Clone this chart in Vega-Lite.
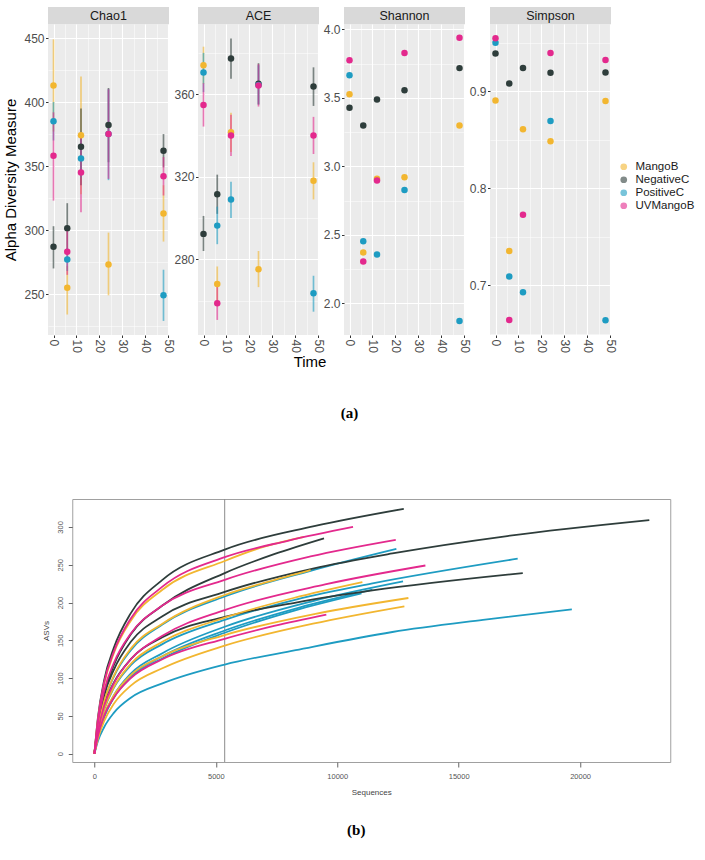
{
  "$schema": "https://vega.github.io/schema/vega-lite/v6.json",
  "background": "white",
  "padding": {"left": 3, "top": 7, "right": 5, "bottom": 5},
  "config": {"font": "Liberation Sans", "view": {"stroke": null}},
  "resolve": {"legend": {"color": "independent"}},
  "center": true,
  "spacing": 76,
  "datasets": {
    "alpha": [
      {"metric":"Chao1","group":"MangoB","time":0,"value":413,"lo":377,"hi":449},
      {"metric":"Chao1","group":"MangoB","time":6,"value":255,"lo":234,"hi":272},
      {"metric":"Chao1","group":"MangoB","time":12,"value":374,"lo":328,"hi":420},
      {"metric":"Chao1","group":"MangoB","time":24,"value":273,"lo":249,"hi":298},
      {"metric":"Chao1","group":"MangoB","time":48,"value":313,"lo":291,"hi":335},
      {"metric":"Chao1","group":"NegativeC","time":0,"value":287,"lo":270,"hi":303},
      {"metric":"Chao1","group":"NegativeC","time":6,"value":301.5,"lo":282,"hi":321},
      {"metric":"Chao1","group":"NegativeC","time":12,"value":365,"lo":335,"hi":395},
      {"metric":"Chao1","group":"NegativeC","time":24,"value":382,"lo":353,"hi":411},
      {"metric":"Chao1","group":"NegativeC","time":48,"value":362,"lo":349,"hi":375},
      {"metric":"Chao1","group":"PositiveC","time":0,"value":385,"lo":370,"hi":400},
      {"metric":"Chao1","group":"PositiveC","time":6,"value":277,"lo":268,"hi":286},
      {"metric":"Chao1","group":"PositiveC","time":12,"value":356,"lo":341,"hi":371},
      {"metric":"Chao1","group":"PositiveC","time":24,"value":375,"lo":339,"hi":410},
      {"metric":"Chao1","group":"PositiveC","time":48,"value":249,"lo":229,"hi":269},
      {"metric":"Chao1","group":"UVMangoB","time":0,"value":358,"lo":323,"hi":392},
      {"metric":"Chao1","group":"UVMangoB","time":6,"value":283,"lo":265,"hi":300},
      {"metric":"Chao1","group":"UVMangoB","time":12,"value":345,"lo":314,"hi":376},
      {"metric":"Chao1","group":"UVMangoB","time":24,"value":375,"lo":340,"hi":410},
      {"metric":"Chao1","group":"UVMangoB","time":48,"value":342,"lo":327,"hi":357},
      {"metric":"ACE","group":"MangoB","time":0,"value":374,"lo":365,"hi":383},
      {"metric":"ACE","group":"MangoB","time":6,"value":268,"lo":259.5,"hi":276.5},
      {"metric":"ACE","group":"MangoB","time":12,"value":341.6,"lo":332,"hi":351},
      {"metric":"ACE","group":"MangoB","time":24,"value":275.2,"lo":266.5,"hi":284},
      {"metric":"ACE","group":"MangoB","time":48,"value":318,"lo":309,"hi":327},
      {"metric":"ACE","group":"NegativeC","time":0,"value":292.3,"lo":284,"hi":301},
      {"metric":"ACE","group":"NegativeC","time":6,"value":311.5,"lo":302,"hi":321},
      {"metric":"ACE","group":"NegativeC","time":12,"value":377.3,"lo":367.5,"hi":387},
      {"metric":"ACE","group":"NegativeC","time":24,"value":365,"lo":355,"hi":375},
      {"metric":"ACE","group":"NegativeC","time":48,"value":363.7,"lo":354.3,"hi":373},
      {"metric":"ACE","group":"PositiveC","time":0,"value":370.5,"lo":361,"hi":380},
      {"metric":"ACE","group":"PositiveC","time":6,"value":296.3,"lo":287.3,"hi":305.5},
      {"metric":"ACE","group":"PositiveC","time":12,"value":309,"lo":300,"hi":317.6},
      {"metric":"ACE","group":"PositiveC","time":24,"value":364.5,"lo":355,"hi":374},
      {"metric":"ACE","group":"PositiveC","time":48,"value":263.5,"lo":254.6,"hi":272},
      {"metric":"ACE","group":"UVMangoB","time":0,"value":354.7,"lo":344.3,"hi":365.3},
      {"metric":"ACE","group":"UVMangoB","time":6,"value":258.7,"lo":250.6,"hi":267},
      {"metric":"ACE","group":"UVMangoB","time":12,"value":340,"lo":330,"hi":350},
      {"metric":"ACE","group":"UVMangoB","time":24,"value":364.2,"lo":354,"hi":374.5},
      {"metric":"ACE","group":"UVMangoB","time":48,"value":340,"lo":331,"hi":349},
      {"metric":"Shannon","group":"MangoB","time":0,"value":3.528},
      {"metric":"Shannon","group":"MangoB","time":6,"value":2.372},
      {"metric":"Shannon","group":"MangoB","time":12,"value":2.91},
      {"metric":"Shannon","group":"MangoB","time":24,"value":2.922},
      {"metric":"Shannon","group":"MangoB","time":48,"value":3.299},
      {"metric":"Shannon","group":"NegativeC","time":0,"value":3.428},
      {"metric":"Shannon","group":"NegativeC","time":6,"value":3.299},
      {"metric":"Shannon","group":"NegativeC","time":12,"value":3.489},
      {"metric":"Shannon","group":"NegativeC","time":24,"value":3.557},
      {"metric":"Shannon","group":"NegativeC","time":48,"value":3.718},
      {"metric":"Shannon","group":"PositiveC","time":0,"value":3.666},
      {"metric":"Shannon","group":"PositiveC","time":6,"value":2.455},
      {"metric":"Shannon","group":"PositiveC","time":12,"value":2.358},
      {"metric":"Shannon","group":"PositiveC","time":24,"value":2.829},
      {"metric":"Shannon","group":"PositiveC","time":48,"value":1.873},
      {"metric":"Shannon","group":"UVMangoB","time":0,"value":3.776},
      {"metric":"Shannon","group":"UVMangoB","time":6,"value":2.306},
      {"metric":"Shannon","group":"UVMangoB","time":12,"value":2.898},
      {"metric":"Shannon","group":"UVMangoB","time":24,"value":3.829},
      {"metric":"Shannon","group":"UVMangoB","time":48,"value":3.939},
      {"metric":"Simpson","group":"MangoB","time":0,"value":0.8907},
      {"metric":"Simpson","group":"MangoB","time":6,"value":0.7354},
      {"metric":"Simpson","group":"MangoB","time":12,"value":0.8609},
      {"metric":"Simpson","group":"MangoB","time":24,"value":0.8486},
      {"metric":"Simpson","group":"MangoB","time":48,"value":0.8901},
      {"metric":"Simpson","group":"NegativeC","time":0,"value":0.9391},
      {"metric":"Simpson","group":"NegativeC","time":6,"value":0.9082},
      {"metric":"Simpson","group":"NegativeC","time":12,"value":0.9241},
      {"metric":"Simpson","group":"NegativeC","time":24,"value":0.9192},
      {"metric":"Simpson","group":"NegativeC","time":48,"value":0.9195},
      {"metric":"Simpson","group":"PositiveC","time":0,"value":0.9501},
      {"metric":"Simpson","group":"PositiveC","time":6,"value":0.7091},
      {"metric":"Simpson","group":"PositiveC","time":12,"value":0.6929},
      {"metric":"Simpson","group":"PositiveC","time":24,"value":0.8695},
      {"metric":"Simpson","group":"PositiveC","time":48,"value":0.6638},
      {"metric":"Simpson","group":"UVMangoB","time":0,"value":0.9549},
      {"metric":"Simpson","group":"UVMangoB","time":6,"value":0.6641},
      {"metric":"Simpson","group":"UVMangoB","time":12,"value":0.7728},
      {"metric":"Simpson","group":"UVMangoB","time":24,"value":0.9395},
      {"metric":"Simpson","group":"UVMangoB","time":48,"value":0.9323}
    ],
    "rare": [
      {"c":"C19","group":"PositiveC","seq":0,"asv":0},{"c":"C19","group":"PositiveC","seq":150,"asv":17},{"c":"C19","group":"PositiveC","seq":400,"asv":35},{"c":"C19","group":"PositiveC","seq":800,"asv":54},{"c":"C19","group":"PositiveC","seq":1500,"asv":74},{"c":"C19","group":"PositiveC","seq":2800,"asv":93},{"c":"C19","group":"PositiveC","seq":5365,"asv":118},{"c":"C19","group":"PositiveC","seq":8288,"asv":137},{"c":"C19","group":"PositiveC","seq":12270,"asv":161},{"c":"C19","group":"PositiveC","seq":16000,"asv":177},{"c":"C19","group":"PositiveC","seq":19660,"asv":191},
      {"c":"C15","group":"PositiveC","seq":0,"asv":0},{"c":"C15","group":"PositiveC","seq":150,"asv":22},{"c":"C15","group":"PositiveC","seq":400,"asv":48},{"c":"C15","group":"PositiveC","seq":800,"asv":74},{"c":"C15","group":"PositiveC","seq":1500,"asv":101},{"c":"C15","group":"PositiveC","seq":2800,"asv":126},{"c":"C15","group":"PositiveC","seq":5365,"asv":160},{"c":"C15","group":"PositiveC","seq":8200,"asv":189},{"c":"C15","group":"PositiveC","seq":11000,"asv":212},
      {"c":"C14","group":"PositiveC","seq":0,"asv":0},{"c":"C14","group":"PositiveC","seq":150,"asv":23},{"c":"C14","group":"PositiveC","seq":400,"asv":49},{"c":"C14","group":"PositiveC","seq":800,"asv":75},{"c":"C14","group":"PositiveC","seq":1500,"asv":103},{"c":"C14","group":"PositiveC","seq":2800,"asv":129},{"c":"C14","group":"PositiveC","seq":5365,"asv":163},{"c":"C14","group":"PositiveC","seq":8400,"asv":193},{"c":"C14","group":"PositiveC","seq":11450,"asv":217},
      {"c":"C13","group":"PositiveC","seq":0,"asv":0},{"c":"C13","group":"PositiveC","seq":150,"asv":24},{"c":"C13","group":"PositiveC","seq":400,"asv":50},{"c":"C13","group":"PositiveC","seq":800,"asv":77},{"c":"C13","group":"PositiveC","seq":1500,"asv":106},{"c":"C13","group":"PositiveC","seq":2800,"asv":133},{"c":"C13","group":"PositiveC","seq":5365,"asv":168},{"c":"C13","group":"PositiveC","seq":9000,"asv":202},{"c":"C13","group":"PositiveC","seq":12710,"asv":228},
      {"c":"C12","group":"PositiveC","seq":0,"asv":0},{"c":"C12","group":"PositiveC","seq":150,"asv":28},{"c":"C12","group":"PositiveC","seq":400,"asv":58},{"c":"C12","group":"PositiveC","seq":800,"asv":87},{"c":"C12","group":"PositiveC","seq":1500,"asv":117},{"c":"C12","group":"PositiveC","seq":2800,"asv":145},{"c":"C12","group":"PositiveC","seq":5365,"asv":177},{"c":"C12","group":"PositiveC","seq":8300,"asv":204},{"c":"C12","group":"PositiveC","seq":11400,"asv":225},{"c":"C12","group":"PositiveC","seq":17430,"asv":258},
      {"c":"C7","group":"PositiveC","seq":0,"asv":0},{"c":"C7","group":"PositiveC","seq":150,"asv":33},{"c":"C7","group":"PositiveC","seq":400,"asv":69},{"c":"C7","group":"PositiveC","seq":800,"asv":102},{"c":"C7","group":"PositiveC","seq":1500,"asv":137},{"c":"C7","group":"PositiveC","seq":2800,"asv":171},{"c":"C7","group":"PositiveC","seq":5365,"asv":208},{"c":"C7","group":"PositiveC","seq":8900,"asv":242},{"c":"C7","group":"PositiveC","seq":12435,"asv":271},
      {"c":"C11","group":"NegativeC","seq":0,"asv":0},{"c":"C11","group":"NegativeC","seq":150,"asv":33},{"c":"C11","group":"NegativeC","seq":400,"asv":65},{"c":"C11","group":"NegativeC","seq":800,"asv":94},{"c":"C11","group":"NegativeC","seq":1500,"asv":125},{"c":"C11","group":"NegativeC","seq":2800,"asv":154},{"c":"C11","group":"NegativeC","seq":5365,"asv":181},{"c":"C11","group":"NegativeC","seq":8300,"asv":200},{"c":"C11","group":"NegativeC","seq":11445,"asv":216},{"c":"C11","group":"NegativeC","seq":17640,"asv":239},
      {"c":"C6","group":"NegativeC","seq":0,"asv":0},{"c":"C6","group":"NegativeC","seq":150,"asv":39},{"c":"C6","group":"NegativeC","seq":400,"asv":77},{"c":"C6","group":"NegativeC","seq":800,"asv":111},{"c":"C6","group":"NegativeC","seq":1500,"asv":148},{"c":"C6","group":"NegativeC","seq":2800,"asv":182},{"c":"C6","group":"NegativeC","seq":5365,"asv":214},{"c":"C6","group":"NegativeC","seq":9000,"asv":245},{"c":"C6","group":"NegativeC","seq":12270,"asv":265},{"c":"C6","group":"NegativeC","seq":17000,"asv":288},{"c":"C6","group":"NegativeC","seq":22850,"asv":309},
      {"c":"C4","group":"NegativeC","seq":0,"asv":0},{"c":"C4","group":"NegativeC","seq":150,"asv":38},{"c":"C4","group":"NegativeC","seq":400,"asv":79},{"c":"C4","group":"NegativeC","seq":800,"asv":117},{"c":"C4","group":"NegativeC","seq":1500,"asv":158},{"c":"C4","group":"NegativeC","seq":2800,"asv":196},{"c":"C4","group":"NegativeC","seq":5365,"asv":239},{"c":"C4","group":"NegativeC","seq":7400,"asv":264},{"c":"C4","group":"NegativeC","seq":9455,"asv":285},
      {"c":"C1","group":"NegativeC","seq":0,"asv":0},{"c":"C1","group":"NegativeC","seq":150,"asv":49},{"c":"C1","group":"NegativeC","seq":400,"asv":97},{"c":"C1","group":"NegativeC","seq":800,"asv":140},{"c":"C1","group":"NegativeC","seq":1500,"asv":186},{"c":"C1","group":"NegativeC","seq":2800,"asv":230},{"c":"C1","group":"NegativeC","seq":5365,"asv":270},{"c":"C1","group":"NegativeC","seq":9050,"asv":301},{"c":"C1","group":"NegativeC","seq":12740,"asv":324},
      {"c":"C3","group":"MangoB","seq":0,"asv":0},{"c":"C3","group":"MangoB","seq":150,"asv":46},{"c":"C3","group":"MangoB","seq":400,"asv":92},{"c":"C3","group":"MangoB","seq":800,"asv":133},{"c":"C3","group":"MangoB","seq":1500,"asv":176},{"c":"C3","group":"MangoB","seq":2800,"asv":217},{"c":"C3","group":"MangoB","seq":5365,"asv":255},{"c":"C3","group":"MangoB","seq":7000,"asv":274},{"c":"C3","group":"MangoB","seq":8630,"asv":287},
      {"c":"C8","group":"MangoB","seq":0,"asv":0},{"c":"C8","group":"MangoB","seq":150,"asv":34},{"c":"C8","group":"MangoB","seq":400,"asv":69},{"c":"C8","group":"MangoB","seq":800,"asv":103},{"c":"C8","group":"MangoB","seq":1500,"asv":139},{"c":"C8","group":"MangoB","seq":2800,"asv":172},{"c":"C8","group":"MangoB","seq":5365,"asv":210},{"c":"C8","group":"MangoB","seq":7100,"asv":227},{"c":"C8","group":"MangoB","seq":8905,"asv":243},
      {"c":"C10","group":"MangoB","seq":0,"asv":0},{"c":"C10","group":"MangoB","seq":150,"asv":29},{"c":"C10","group":"MangoB","seq":400,"asv":59},{"c":"C10","group":"MangoB","seq":800,"asv":88},{"c":"C10","group":"MangoB","seq":1500,"asv":119},{"c":"C10","group":"MangoB","seq":2800,"asv":148},{"c":"C10","group":"MangoB","seq":5365,"asv":180},{"c":"C10","group":"MangoB","seq":8200,"asv":206},{"c":"C10","group":"MangoB","seq":11035,"asv":227},
      {"c":"C16","group":"MangoB","seq":0,"asv":0},{"c":"C16","group":"MangoB","seq":150,"asv":25},{"c":"C16","group":"MangoB","seq":400,"asv":52},{"c":"C16","group":"MangoB","seq":800,"asv":77},{"c":"C16","group":"MangoB","seq":1500,"asv":104},{"c":"C16","group":"MangoB","seq":2800,"asv":129},{"c":"C16","group":"MangoB","seq":5365,"asv":157},{"c":"C16","group":"MangoB","seq":9100,"asv":185},{"c":"C16","group":"MangoB","seq":12930,"asv":206},
      {"c":"C18","group":"MangoB","seq":0,"asv":0},{"c":"C18","group":"MangoB","seq":150,"asv":20},{"c":"C18","group":"MangoB","seq":400,"asv":43},{"c":"C18","group":"MangoB","seq":800,"asv":66},{"c":"C18","group":"MangoB","seq":1500,"asv":90},{"c":"C18","group":"MangoB","seq":2800,"asv":113},{"c":"C18","group":"MangoB","seq":5365,"asv":143},{"c":"C18","group":"MangoB","seq":9000,"asv":172},{"c":"C18","group":"MangoB","seq":12765,"asv":195},
      {"c":"C2","group":"UVMangoB","seq":0,"asv":0},{"c":"C2","group":"UVMangoB","seq":150,"asv":47},{"c":"C2","group":"UVMangoB","seq":400,"asv":94},{"c":"C2","group":"UVMangoB","seq":800,"asv":135},{"c":"C2","group":"UVMangoB","seq":1500,"asv":179},{"c":"C2","group":"UVMangoB","seq":2800,"asv":221},{"c":"C2","group":"UVMangoB","seq":5365,"asv":260},{"c":"C2","group":"UVMangoB","seq":8000,"asv":282},{"c":"C2","group":"UVMangoB","seq":10650,"asv":300},
      {"c":"C5","group":"UVMangoB","seq":0,"asv":0},{"c":"C5","group":"UVMangoB","seq":150,"asv":41},{"c":"C5","group":"UVMangoB","seq":400,"asv":83},{"c":"C5","group":"UVMangoB","seq":800,"asv":120},{"c":"C5","group":"UVMangoB","seq":1500,"asv":159},{"c":"C5","group":"UVMangoB","seq":2800,"asv":196},{"c":"C5","group":"UVMangoB","seq":5365,"asv":230},{"c":"C5","group":"UVMangoB","seq":8900,"asv":261},{"c":"C5","group":"UVMangoB","seq":12410,"asv":283},
      {"c":"C9","group":"UVMangoB","seq":0,"asv":0},{"c":"C9","group":"UVMangoB","seq":150,"asv":30},{"c":"C9","group":"UVMangoB","seq":400,"asv":63},{"c":"C9","group":"UVMangoB","seq":800,"asv":93},{"c":"C9","group":"UVMangoB","seq":1500,"asv":125},{"c":"C9","group":"UVMangoB","seq":2800,"asv":156},{"c":"C9","group":"UVMangoB","seq":5365,"asv":190},{"c":"C9","group":"UVMangoB","seq":9500,"asv":224},{"c":"C9","group":"UVMangoB","seq":13630,"asv":249},
      {"c":"C17","group":"UVMangoB","seq":0,"asv":0},{"c":"C17","group":"UVMangoB","seq":150,"asv":24},{"c":"C17","group":"UVMangoB","seq":400,"asv":50},{"c":"C17","group":"UVMangoB","seq":800,"asv":74},{"c":"C17","group":"UVMangoB","seq":1500,"asv":100},{"c":"C17","group":"UVMangoB","seq":2800,"asv":125},{"c":"C17","group":"UVMangoB","seq":5365,"asv":152},{"c":"C17","group":"UVMangoB","seq":7400,"asv":169},{"c":"C17","group":"UVMangoB","seq":9550,"asv":184}
    ]
  },
  "vconcat": [
    {
      "title": {"text": "(a)", "orient": "bottom", "anchor": "middle", "frame": "bounds", "font": "Liberation Serif", "fontSize": 15, "fontWeight": "bold", "color": "black", "offset": 36},
      "vconcat": [
        {
          "title": {"text": "Time", "orient": "bottom", "anchor": "middle", "font": "Liberation Sans", "fontSize": 15, "fontWeight": "normal", "color": "black", "offset": 3},
          "spacing": -2,
          "hconcat": [
            {
              "bounds": "flush", "spacing": 0,
              "vconcat": [
                {"width": 121, "height": 17, "view": {"fill": "#D9D9D9", "stroke": null}, "data": {"values": [{"m": "Chao1"}]}, "mark": {"type": "text", "fontSize": 12.5, "color": "#1A1A1A"}, "encoding": {"text": {"field": "m"}}},
                {
                  "width": 121, "height": 311, "view": {"fill": "#EBEBEB", "stroke": null},
                  "data": {"name": "alpha"},
                  "transform": [{"filter": "datum.metric == 'Chao1'"}],
                  "encoding": {
                    "x": {"field": "time", "type": "quantitative", "scale": {"domain": [-2.4, 50.4], "nice": false, "zero": false}, "axis": {"title": null, "values": [0,5,10,15,20,25,30,35,40,45,50], "labelExpr": "datum.value % 10 == 0 ? datum.label : ''", "labelAngle": 90, "labelFontSize": 12, "labelColor": "#4D4D4D", "labelPadding": 1.5, "tickSize": 2.5, "tickColor": "#333333", "tickOpacity": {"condition": {"test": "datum.value % 10 == 0", "value": 1}, "value": 0}, "domain": false, "grid": true, "gridColor": "white", "gridWidth": {"condition": {"test": "datum.value % 10 == 0", "value": 1.1}, "value": 0.5}}},
                    "color": {"field": "group", "type": "nominal", "scale": {"domain": ["MangoB","NegativeC","PositiveC","UVMangoB"], "range": ["#F2B630","#2E3D3B","#1E9CC2","#E3298D"]}, "legend": {"title": null, "orient": "none", "legendX": 570, "legendY": 154, "labelFontSize": 11.5, "labelColor": "#1A1A1A", "symbolType": "circle", "symbolSize": 45, "symbolStrokeWidth": 0, "rowPadding": 0, "labelOffset": 6}}
                  },
                  "layer": [
                    {"transform": [{"filter": "isValid(datum.lo)"}], "mark": {"type": "rule", "strokeWidth": 1.7, "opacity": 0.6},
                     "encoding": {"y": {"field": "lo", "type": "quantitative", "scale": {"domain": [218, 461], "nice": false, "zero": false}, "axis": {"title": "Alpha Diversity Measure", "titleFontSize": 15, "titleColor": "black", "titleFontWeight": "normal", "titlePadding": 5, "values": [225,250,275,300,325,350,375,400,425,450], "labelExpr": "datum.value % 50 == 0 ? datum.label : ''", "labelFontSize": 12, "labelColor": "#4D4D4D", "labelPadding": 1.5, "tickSize": 2.5, "tickColor": "#333333", "tickOpacity": {"condition": {"test": "datum.value % 50 == 0", "value": 1}, "value": 0}, "domain": false, "grid": true, "gridColor": "white", "gridWidth": {"condition": {"test": "datum.value % 50 == 0", "value": 1.1}, "value": 0.5}}}, "y2": {"field": "hi"}}},
                    {"mark": {"type": "circle", "size": 42, "opacity": 1},
                     "encoding": {"y": {"field": "value", "type": "quantitative", "scale": {"domain": [218, 461], "nice": false, "zero": false}, "axis": {"title": "Alpha Diversity Measure", "titleFontSize": 15, "titleColor": "black", "titleFontWeight": "normal", "titlePadding": 5, "values": [225,250,275,300,325,350,375,400,425,450], "labelExpr": "datum.value % 50 == 0 ? datum.label : ''", "labelFontSize": 12, "labelColor": "#4D4D4D", "labelPadding": 1.5, "tickSize": 2.5, "tickColor": "#333333", "tickOpacity": {"condition": {"test": "datum.value % 50 == 0", "value": 1}, "value": 0}, "domain": false, "grid": true, "gridColor": "white", "gridWidth": {"condition": {"test": "datum.value % 50 == 0", "value": 1.1}, "value": 0.5}}}}}
                  ]
                }
              ]
            },
            {
              "bounds": "flush", "spacing": 0,
              "vconcat": [
                {"width": 121, "height": 17, "view": {"fill": "#D9D9D9", "stroke": null}, "data": {"values": [{"m": "ACE"}]}, "mark": {"type": "text", "fontSize": 12.5, "color": "#1A1A1A"}, "encoding": {"text": {"field": "m"}}},
                {
                  "width": 121, "height": 311, "view": {"fill": "#EBEBEB", "stroke": null},
                  "data": {"name": "alpha"},
                  "transform": [{"filter": "datum.metric == 'ACE'"}],
                  "encoding": {
                    "x": {"field": "time", "type": "quantitative", "scale": {"domain": [-2.4, 50.4], "nice": false, "zero": false}, "axis": {"title": null, "values": [0,5,10,15,20,25,30,35,40,45,50], "labelExpr": "datum.value % 10 == 0 ? datum.label : ''", "labelAngle": 90, "labelFontSize": 12, "labelColor": "#4D4D4D", "labelPadding": 1.5, "tickSize": 2.5, "tickColor": "#333333", "tickOpacity": {"condition": {"test": "datum.value % 10 == 0", "value": 1}, "value": 0}, "domain": false, "grid": true, "gridColor": "white", "gridWidth": {"condition": {"test": "datum.value % 10 == 0", "value": 1.1}, "value": 0.5}}},
                    "color": {"field": "group", "type": "nominal", "scale": {"domain": ["MangoB","NegativeC","PositiveC","UVMangoB"], "range": ["#F2B630","#2E3D3B","#1E9CC2","#E3298D"]}, "legend": {"title": null, "orient": "none", "legendX": 570, "legendY": 154, "labelFontSize": 11.5, "labelColor": "#1A1A1A", "symbolType": "circle", "symbolSize": 45, "symbolStrokeWidth": 0, "rowPadding": 0, "labelOffset": 6}}
                  },
                  "layer": [
                    {"transform": [{"filter": "isValid(datum.lo)"}], "mark": {"type": "rule", "strokeWidth": 1.7, "opacity": 0.6},
                     "encoding": {"y": {"field": "lo", "type": "quantitative", "scale": {"domain": [243.3, 394], "nice": false, "zero": false}, "axis": {"title": null, "values": [260,280,300,320,340,360,380], "labelExpr": "datum.value % 40 == 0 ? datum.label : ''", "labelFontSize": 12, "labelColor": "#4D4D4D", "labelPadding": 1.5, "tickSize": 2.5, "tickColor": "#333333", "tickOpacity": {"condition": {"test": "datum.value % 40 == 0", "value": 1}, "value": 0}, "domain": false, "grid": true, "gridColor": "white", "gridWidth": {"condition": {"test": "datum.value % 40 == 0", "value": 1.1}, "value": 0.5}}}, "y2": {"field": "hi"}}},
                    {"mark": {"type": "circle", "size": 42, "opacity": 1},
                     "encoding": {"y": {"field": "value", "type": "quantitative", "scale": {"domain": [243.3, 394], "nice": false, "zero": false}, "axis": {"title": null, "values": [260,280,300,320,340,360,380], "labelExpr": "datum.value % 40 == 0 ? datum.label : ''", "labelFontSize": 12, "labelColor": "#4D4D4D", "labelPadding": 1.5, "tickSize": 2.5, "tickColor": "#333333", "tickOpacity": {"condition": {"test": "datum.value % 40 == 0", "value": 1}, "value": 0}, "domain": false, "grid": true, "gridColor": "white", "gridWidth": {"condition": {"test": "datum.value % 40 == 0", "value": 1.1}, "value": 0.5}}}}}
                  ]
                }
              ]
            },
            {
              "bounds": "flush", "spacing": 0,
              "vconcat": [
                {"width": 121, "height": 17, "view": {"fill": "#D9D9D9", "stroke": null}, "data": {"values": [{"m": "Shannon"}]}, "mark": {"type": "text", "fontSize": 12.5, "color": "#1A1A1A"}, "encoding": {"text": {"field": "m"}}},
                {
                  "width": 121, "height": 311, "view": {"fill": "#EBEBEB", "stroke": null},
                  "data": {"name": "alpha"},
                  "transform": [{"filter": "datum.metric == 'Shannon'"}],
                  "mark": {"type": "circle", "size": 42, "opacity": 1},
                  "encoding": {
                    "x": {"field": "time", "type": "quantitative", "scale": {"domain": [-2.4, 50.4], "nice": false, "zero": false}, "axis": {"title": null, "values": [0,5,10,15,20,25,30,35,40,45,50], "labelExpr": "datum.value % 10 == 0 ? datum.label : ''", "labelAngle": 90, "labelFontSize": 12, "labelColor": "#4D4D4D", "labelPadding": 1.5, "tickSize": 2.5, "tickColor": "#333333", "tickOpacity": {"condition": {"test": "datum.value % 10 == 0", "value": 1}, "value": 0}, "domain": false, "grid": true, "gridColor": "white", "gridWidth": {"condition": {"test": "datum.value % 10 == 0", "value": 1.1}, "value": 0.5}}},
                    "y": {"field": "value", "type": "quantitative", "scale": {"domain": [1.77, 4.04], "nice": false, "zero": false}, "axis": {"title": null, "values": [2.0,2.25,2.5,2.75,3.0,3.25,3.5,3.75,4.0], "format": ".1f", "labelExpr": "abs(datum.value*2 - round(datum.value*2)) < 0.01 ? datum.label : ''", "labelFontSize": 12, "labelColor": "#4D4D4D", "labelPadding": 1.5, "tickSize": 2.5, "tickColor": "#333333", "tickOpacity": {"condition": {"test": "abs(datum.value*2 - round(datum.value*2)) < 0.01", "value": 1}, "value": 0}, "domain": false, "grid": true, "gridColor": "white", "gridWidth": {"condition": {"test": "abs(datum.value*2 - round(datum.value*2)) < 0.01", "value": 1.1}, "value": 0.5}}},
                    "color": {"field": "group", "type": "nominal", "scale": {"domain": ["MangoB","NegativeC","PositiveC","UVMangoB"], "range": ["#F2B630","#2E3D3B","#1E9CC2","#E3298D"]}, "legend": {"title": null, "orient": "none", "legendX": 570, "legendY": 154, "labelFontSize": 11.5, "labelColor": "#1A1A1A", "symbolType": "circle", "symbolSize": 45, "symbolStrokeWidth": 0, "rowPadding": 0, "labelOffset": 6}}
                  }
                }
              ]
            },
            {
              "bounds": "flush", "spacing": 0,
              "vconcat": [
                {"width": 121, "height": 17, "view": {"fill": "#D9D9D9", "stroke": null}, "data": {"values": [{"m": "Simpson"}]}, "mark": {"type": "text", "fontSize": 12.5, "color": "#1A1A1A"}, "encoding": {"text": {"field": "m"}}},
                {
                  "width": 121, "height": 311, "view": {"fill": "#EBEBEB", "stroke": null},
                  "data": {"name": "alpha"},
                  "transform": [{"filter": "datum.metric == 'Simpson'"}],
                  "mark": {"type": "circle", "size": 42, "opacity": 1},
                  "encoding": {
                    "x": {"field": "time", "type": "quantitative", "scale": {"domain": [-2.4, 50.4], "nice": false, "zero": false}, "axis": {"title": null, "values": [0,5,10,15,20,25,30,35,40,45,50], "labelExpr": "datum.value % 10 == 0 ? datum.label : ''", "labelAngle": 90, "labelFontSize": 12, "labelColor": "#4D4D4D", "labelPadding": 1.5, "tickSize": 2.5, "tickColor": "#333333", "tickOpacity": {"condition": {"test": "datum.value % 10 == 0", "value": 1}, "value": 0}, "domain": false, "grid": true, "gridColor": "white", "gridWidth": {"condition": {"test": "datum.value % 10 == 0", "value": 1.1}, "value": 0.5}}},
                    "y": {"field": "value", "type": "quantitative", "scale": {"domain": [0.6487, 0.9695], "nice": false, "zero": false}, "axis": {"title": null, "values": [0.65,0.7,0.75,0.8,0.85,0.9,0.95], "format": ".1f", "labelExpr": "abs(datum.value*10 - round(datum.value*10)) < 0.01 ? datum.label : ''", "labelFontSize": 12, "labelColor": "#4D4D4D", "labelPadding": 1.5, "tickSize": 2.5, "tickColor": "#333333", "tickOpacity": {"condition": {"test": "abs(datum.value*10 - round(datum.value*10)) < 0.01", "value": 1}, "value": 0}, "domain": false, "grid": true, "gridColor": "white", "gridWidth": {"condition": {"test": "abs(datum.value*10 - round(datum.value*10)) < 0.01", "value": 1.1}, "value": 0.5}}},
                    "color": {"field": "group", "type": "nominal", "scale": {"domain": ["MangoB","NegativeC","PositiveC","UVMangoB"], "range": ["#F2B630","#2E3D3B","#1E9CC2","#E3298D"]}, "legend": {"title": null, "orient": "none", "legendX": 570, "legendY": 154, "labelFontSize": 11.5, "labelColor": "#1A1A1A", "symbolType": "circle", "symbolSize": 45, "symbolStrokeWidth": 0, "rowPadding": 0, "labelOffset": 6}}
                  }
                }
              ]
            }
          ]
        }
      ]
    },
    {
      "title": {"text": "(b)", "orient": "bottom", "anchor": "middle", "frame": "bounds", "font": "Liberation Serif", "fontSize": 15, "fontWeight": "bold", "color": "black", "offset": 26},
      "width": 598, "height": 263,
      "view": {"stroke": "#A0A0A0", "strokeWidth": 1, "fill": "white"},
      "layer": [
        {
          "data": {"values": [{}]},
          "mark": {"type": "rule", "color": "#8C8C8C", "strokeWidth": 1},
          "encoding": {"x": {"datum": 5365, "type": "quantitative", "scale": {"domain": [-912, 23712], "nice": false, "zero": false}, "axis": {"title": "Sequences", "values": [0,5000,10000,15000,20000], "format": "d", "grid": false, "domain": false, "tickSize": 5, "tickColor": "#666666", "labelFontSize": 7.5, "labelColor": "#555555", "labelPadding": 5, "titleFontSize": 8, "titleColor": "#444444", "titleFontWeight": "normal", "titlePadding": 9}}}
        },
        {
          "data": {"name": "rare"},
          "mark": {"type": "line", "strokeWidth": 1.8, "interpolate": "monotone"},
          "encoding": {
            "x": {"field": "seq", "type": "quantitative", "scale": {"domain": [-912, 23712], "nice": false, "zero": false}, "axis": {"title": "Sequences", "values": [0,5000,10000,15000,20000], "format": "d", "grid": false, "domain": false, "tickSize": 5, "tickColor": "#666666", "labelFontSize": 7.5, "labelColor": "#555555", "labelPadding": 5, "titleFontSize": 8, "titleColor": "#444444", "titleFontWeight": "normal", "titlePadding": 9}},
            "y": {"field": "asv", "type": "quantitative", "scale": {"domain": [-11, 337], "nice": false, "zero": false}, "axis": {"title": "ASVs", "values": [0,50,100,150,200,250,300], "labelAngle": -90, "grid": false, "domain": false, "tickSize": 4, "tickColor": "#666666", "labelFontSize": 7.5, "labelColor": "#555555", "labelPadding": 4, "titleFontSize": 8, "titleColor": "#444444", "titleFontWeight": "normal", "titlePadding": 6}},
            "color": {"field": "group", "type": "nominal", "scale": {"domain": ["MangoB","NegativeC","PositiveC","UVMangoB"], "range": ["#F2B630","#2E3D3B","#1E9CC2","#E3298D"]}, "legend": null},
            "detail": {"field": "c", "type": "nominal"}
          }
        }
      ]
    }
  ]
}
